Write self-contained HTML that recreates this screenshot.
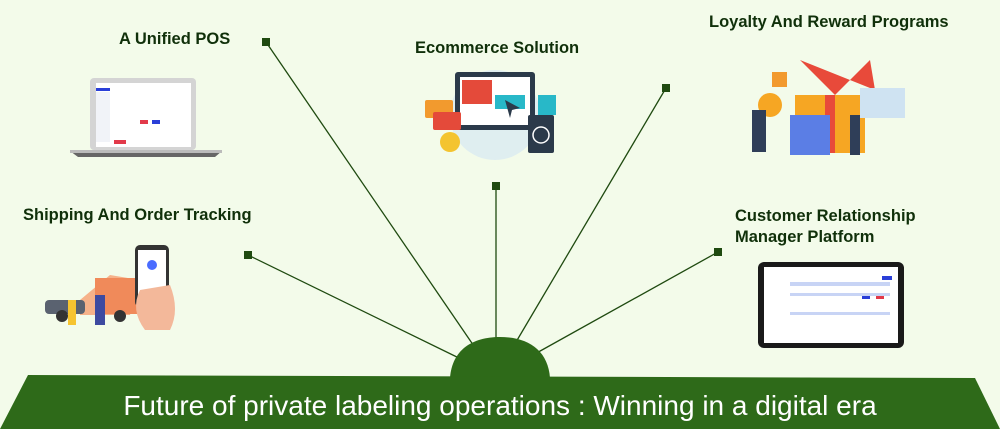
<!DOCTYPE html>
<html><head><meta charset="utf-8"><style>
html,body{margin:0;padding:0}
body{width:1000px;height:429px;background:#f3fbea;position:relative;overflow:hidden;font-family:"Liberation Sans",sans-serif}
.t{position:absolute;font-weight:bold;font-size:16.5px;color:#10300a;line-height:21px}
</style></head><body>
<svg width="1000" height="429" style="position:absolute;left:0;top:0">
<g stroke="#1f4a10" stroke-width="1.3">
<line x1="266" y1="42" x2="478" y2="352"/>
<line x1="496" y1="186" x2="496" y2="340"/>
<line x1="666" y1="88" x2="516" y2="342"/>
<line x1="248" y1="255" x2="463" y2="360"/>
<line x1="718" y1="252" x2="533" y2="355"/>
</g>
<g fill="#1f4a10">
<rect x="262" y="38" width="8" height="8"/><rect x="492" y="182" width="8" height="8"/>
<rect x="662" y="84" width="8" height="8"/><rect x="244" y="251" width="8" height="8"/>
<rect x="714" y="248" width="8" height="8"/>
</g>
<path d="M450,378 C452,350 472,337 500,337 C528,337 548,350 550,378 Z" fill="#2e6a19"/>
<polygon points="28,375 975,378 1000,429 0,429" fill="#2e6a19"/>
<text x="500" y="415" text-anchor="middle" fill="#fff" font-family="Liberation Sans, sans-serif" font-size="28">Future of private labeling operations : Winning in a digital era</text>
<!-- laptop -->
<rect x="90" y="78" width="106" height="72" rx="4" fill="#d4d4d4"/>
<rect x="96" y="83" width="95" height="64" fill="#fff"/>
<rect x="96" y="88" width="14" height="3" fill="#2a3fd8"/>
<rect x="96" y="92" width="14" height="50" fill="#f1f3f8"/>
<rect x="140" y="120" width="8" height="4" fill="#e23a4a"/><rect x="152" y="120" width="8" height="4" fill="#2a3fd8"/>
<rect x="114" y="140" width="12" height="4" fill="#e23a4a"/>
<path d="M70,151 H222 L215,157 H78 Z" fill="#666"/>
<rect x="70" y="150" width="152" height="3" fill="#bbb"/>
<!-- ecommerce -->
<circle cx="495" cy="115" r="45" fill="#dfeef0"/>
<rect x="455" y="72" width="80" height="58" rx="3" fill="#2b3a4a"/>
<rect x="460" y="77" width="70" height="48" fill="#fff"/>
<rect x="462" y="80" width="30" height="24" fill="#e44a3a"/>
<rect x="495" y="95" width="30" height="14" fill="#28b8c8"/>
<rect x="425" y="100" width="28" height="18" rx="2" fill="#f29a2e"/>
<rect x="433" y="112" width="28" height="18" rx="2" fill="#e44a3a"/>
<circle cx="450" cy="142" r="10" fill="#f4c430"/>
<rect x="528" y="115" width="26" height="38" rx="2" fill="#2b3a4a"/>
<circle cx="541" cy="135" r="8" fill="none" stroke="#fff" stroke-width="1.5"/>
<rect x="538" y="95" width="18" height="20" fill="#28b8c8"/>
<path d="M505,100 L520,108 L512,110 L510,118 Z" fill="#2b3a4a"/>
<!-- gifts -->
<rect x="795" y="95" width="70" height="58" fill="#f6a623"/>
<rect x="825" y="95" width="10" height="58" fill="#e84a3a"/>
<rect x="790" y="115" width="40" height="40" fill="#5b7ee5"/>
<path d="M800,60 L835,95 L870,60 L875,90 Z" fill="#e84a3a"/>
<rect x="860" y="88" width="45" height="30" fill="#cfe3f2"/>
<circle cx="770" cy="105" r="12" fill="#f6a623"/>
<rect x="752" y="110" width="14" height="42" fill="#2f3e58"/>
<rect x="850" y="115" width="10" height="40" fill="#2f3e58"/>
<rect x="772" y="72" width="15" height="15" fill="#f29a2e"/>
<!-- shipping -->
<path d="M80,300 L110,275 L140,280 L130,315 L80,315 Z" fill="#f6b28a"/>
<rect x="95" y="278" width="45" height="36" fill="#f08a5a"/>
<rect x="45" y="300" width="40" height="14" rx="4" fill="#5a6270"/>
<circle cx="62" cy="316" r="6" fill="#333"/><circle cx="120" cy="316" r="6" fill="#333"/>
<rect x="135" y="245" width="34" height="62" rx="5" fill="#333"/>
<rect x="138" y="250" width="28" height="52" fill="#fff"/>
<circle cx="152" cy="265" r="5" fill="#4a6cff"/>
<path d="M140,290 q-10,20 5,40 h25 q10,-20 0,-45 Z" fill="#f3b89a"/>
<rect x="95" y="295" width="10" height="30" fill="#3d4aa0"/>
<rect x="68" y="300" width="8" height="25" fill="#f6c430"/>
<!-- tablet -->
<rect x="758" y="262" width="146" height="86" rx="6" fill="#1a1a1a"/>
<rect x="764" y="267" width="134" height="76" fill="#fff"/>
<rect x="790" y="282" width="100" height="4" fill="#c8d4f5"/>
<rect x="790" y="293" width="100" height="3" fill="#c8d4f5"/>
<rect x="862" y="296" width="8" height="3" fill="#2a3fd8"/><rect x="876" y="296" width="8" height="3" fill="#e23a4a"/>
<rect x="790" y="312" width="100" height="3" fill="#c8d4f5"/>
<rect x="882" y="276" width="10" height="4" fill="#2a3fd8"/>
</svg>
<div class="t" style="left:119px;top:29px">A Unified POS</div>
<div class="t" style="left:415px;top:38px">Ecommerce Solution</div>
<div class="t" style="left:709px;top:12px">Loyalty And Reward Programs</div>
<div class="t" style="left:23px;top:205px">Shipping And Order Tracking</div>
<div class="t" style="left:735px;top:206px">Customer Relationship<br>Manager Platform</div>
</body></html>
